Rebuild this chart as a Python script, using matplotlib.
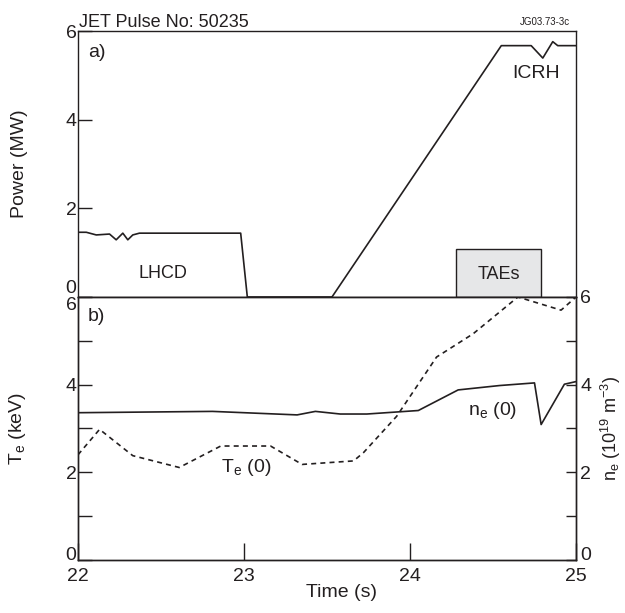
import matplotlib
matplotlib.use("Agg")
import matplotlib.pyplot as plt
from matplotlib.patches import Rectangle

plt.rcParams['font.family'] = ['Liberation Sans', 'DejaVu Sans']
plt.rcParams['mathtext.fontset'] = 'custom'
plt.rcParams['mathtext.rm'] = 'Liberation Sans'

# panel a) heating power (MW)
lhcd_t = [22.0, 22.05, 22.11, 22.19, 22.23, 22.27, 22.30, 22.33, 22.37, 22.98, 23.02, 23.53]
lhcd_p = [1.46, 1.46, 1.40, 1.42, 1.29, 1.44, 1.29, 1.40, 1.44, 1.44, 0.0, 0.0]
icrh_t = [23.53, 24.55, 24.73, 24.80, 24.86, 24.89, 25.0]
icrh_p = [0.0, 5.67, 5.67, 5.39, 5.76, 5.67, 5.67]
tae_start, tae_end, tae_height = 24.28, 24.79, 1.08

# panel b) central temperature (keV) and density (1e19 m^-3)
te_t = [22.0, 22.13, 22.33, 22.61, 22.86, 23.16, 23.35, 23.66, 23.72, 23.92, 24.16, 24.38, 24.65, 24.91, 25.0]
te_v = [2.40, 2.98, 2.38, 2.11, 2.60, 2.60, 2.18, 2.26, 2.45, 3.28, 4.63, 5.16, 6.0, 5.70, 6.0]
ne_t = [22.0, 22.81, 23.32, 23.43, 23.58, 23.74, 24.05, 24.29, 24.54, 24.75, 24.79, 24.93, 25.0]
ne_v = [3.36, 3.39, 3.31, 3.39, 3.33, 3.33, 3.41, 3.88, 3.98, 4.04, 3.09, 4.01, 4.07]

ink = '#231f20'
fs = 14

fig = plt.figure(figsize=(6.25, 6.13), dpi=100)
ax1 = fig.add_axes([0.1248, 0.5155, 0.7968, 0.4339])
ax2 = fig.add_axes([0.1248, 0.0865, 0.7968, 0.4290])
ax3 = ax2.twinx()

for a in (ax1, ax2, ax3):
    for s in a.spines.values():
        s.set_color(ink)
        s.set_linewidth(1.0)

# --- panel a
ax1.plot(lhcd_t, lhcd_p, color=ink, lw=1.2)
ax1.plot(icrh_t, icrh_p, color=ink, lw=1.2)
ax1.add_patch(Rectangle((tae_start, 0), tae_end - tae_start, tae_height,
                        facecolor='#e6e7e8', edgecolor=ink, lw=1.0))
ax1.set_xlim(22, 25)
ax1.set_ylim(0, 6)
ax1.set_xticks([])
ax1.set_yticks([0, 2, 4, 6])
ax1.tick_params(axis='y', direction='in', length=10, width=1, color=ink,
                labelsize=fs, pad=1, labelcolor=ink)
ax1.get_yticklabels()[0].set_va('bottom')
ax1.set_ylabel('Power (MW)', fontsize=fs, color=ink, labelpad=14)
ax1.yaxis.set_label_coords(-0.1, 0.5)
ax1.text(0.02, 0.95, 'a)', transform=ax1.transAxes, fontsize=fs, color=ink, va='top')
ax1.text(22.51, 0.54, 'LHCD', fontsize=13, color=ink, ha='center', va='center')
ax1.text(24.76, 5.04, 'ICRH', fontsize=14, color=ink, ha='center', va='center')
ax1.text((tae_start + tae_end) / 2, 0.50, 'TAEs', fontsize=13, color=ink, ha='center', va='center')

# --- panel b
ax2.plot(te_t, te_v, color=ink, lw=1.2, linestyle=(0, (3, 2.5)))
ax3.plot(ne_t, ne_v, color=ink, lw=1.2)
ax2.set_xlim(22, 25)
ax2.set_ylim(0, 6)
ax3.set_ylim(0, 6)
ax2.set_xticks([22, 23, 24, 25])
ax2.set_yticks([0, 2, 4, 6])
ax2.set_yticks([1, 3, 5], minor=True)
ax3.set_yticks([0, 2, 4, 6])
ax3.set_yticks([1, 3, 5], minor=True)
ax2.tick_params(axis='x', direction='in', length=12, width=1, color=ink,
                labelsize=fs, pad=6, labelcolor=ink)
ax2.tick_params(axis='y', which='both', direction='in', length=10, width=1, color=ink,
                labelsize=fs, pad=1, labelcolor=ink)
ax3.tick_params(axis='y', which='both', direction='in', length=7, width=1, color=ink,
                labelsize=fs, pad=3, labelcolor=ink)
ax2.get_yticklabels()[-1].set_va('top')
ax2.get_yticklabels()[0].set_va('baseline')
ax3.get_yticklabels()[0].set_va('baseline')
ax2.set_ylabel(r'T$_\mathregular{e}$ (keV)', fontsize=fs, color=ink)
ax2.yaxis.set_label_coords(-0.1, 0.5)
ax3.set_ylabel(r'n$_\mathregular{e}$ (10$^\mathregular{19}$ m$^\mathregular{-3}$)',
               fontsize=13, color=ink, rotation=90)
ax3.yaxis.set_label_coords(1.046, 0.5)
ax2.set_xlabel('Time (s)', fontsize=fs, color=ink)
ax2.xaxis.set_label_coords(0.53, -0.09)
ax2.text(0.02, 0.96, 'b)', transform=ax2.transAxes, fontsize=fs, color=ink, va='top')
ax2.text(22.86, 2.11, r'T$_\mathregular{e}$ (0)', fontsize=fs, color=ink, ha='left', va='center')
ax3.text(24.50, 3.40, r'n$_\mathregular{e}$ (0)', fontsize=fs, color=ink, ha='center', va='center')

fig.text(79 / 625, 1 - 27 / 613, 'JET Pulse No: 50235', fontsize=13, color=ink, va='baseline')
fig.text(570 / 625, 1 - 25 / 613, 'JG03.73-3c', fontsize=7, color=ink, ha='right', va='baseline')

fig.savefig('out.png', dpi=100)
